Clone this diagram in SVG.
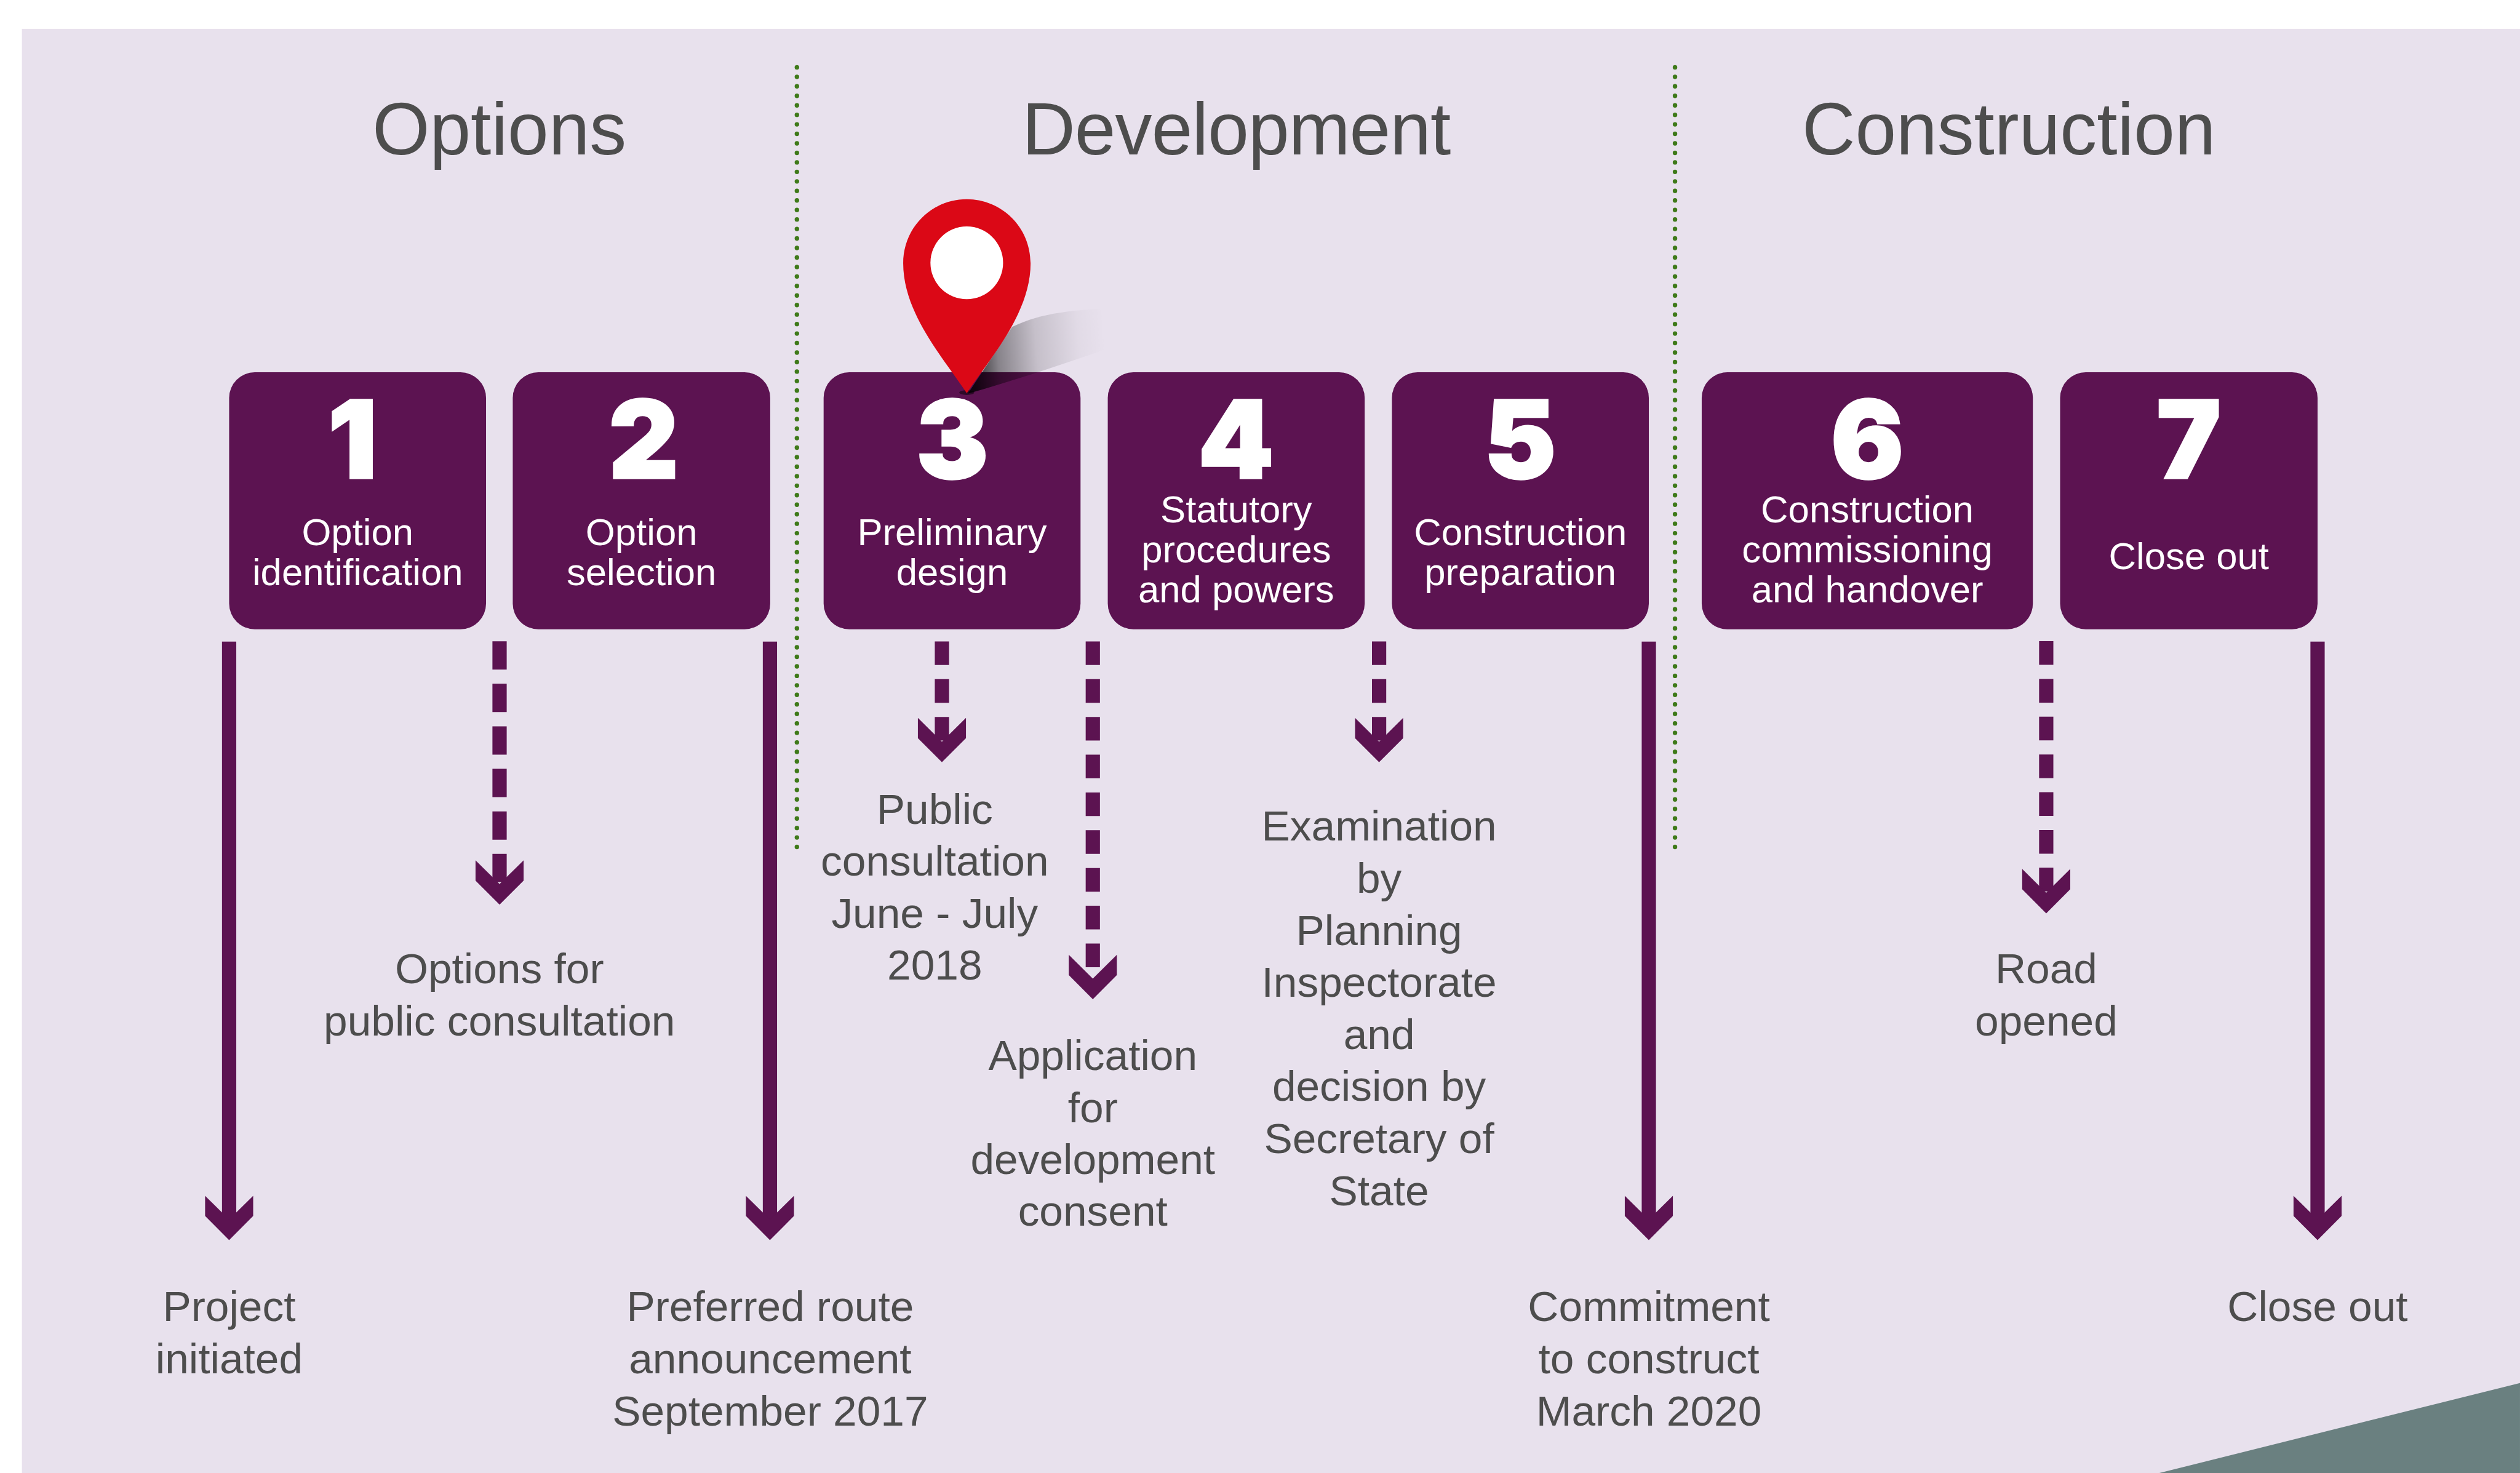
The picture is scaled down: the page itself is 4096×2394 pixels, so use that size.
<svg xmlns="http://www.w3.org/2000/svg" width="4096" height="2394" viewBox="0 0 4096 2394">
<style>
.box{fill:#5c1351}
.num{font-family:Inter,"Liberation Sans",sans-serif;font-weight:900;font-size:201px;fill:#fff;stroke:#fff;stroke-width:4;text-anchor:middle}
.lab{font-family:"Liberation Sans",Arial,sans-serif;font-size:71px;fill:#fff;text-anchor:middle}
.txt{font-family:"Liberation Sans",Arial,sans-serif;font-size:80px;fill:#4d4d4d;text-anchor:middle}
.head{font-family:"Liberation Sans",Arial,sans-serif;font-size:138px;fill:#4d4d4d;text-anchor:middle}
.solid{stroke:#5c1351;stroke-width:26.7;fill:none;marker-end:url(#chev)}
.dash{stroke:#5c1351;stroke-width:26.7;fill:none;stroke-dasharray:44.3 26.4;marker-end:url(#chev)}
.dash2{stroke:#5c1351;stroke-width:26.7;fill:none;stroke-dasharray:53 26.6;marker-end:url(#chev)}
.dot{stroke:#3f7a1a;stroke-width:8.500;fill:none;stroke-linecap:round;stroke-dasharray:0 17.8}
</style>
<defs>
<marker id="chev" markerUnits="userSpaceOnUse" markerWidth="84" markerHeight="90" viewBox="0 0 84 90" refX="44.5" refY="45" orient="auto" overflow="visible">
<polygon points="0,0 44.5,45 0,90 38,90 83,45 38,0" fill="#5c1351"/>
</marker>
<linearGradient id="shade" gradientUnits="userSpaceOnUse" x1="1820" y1="660" x2="2070" y2="640">
<stop offset="0" stop-color="#000" stop-opacity=".8"/>
<stop offset=".19" stop-color="#000" stop-opacity=".42"/>
<stop offset=".48" stop-color="#000" stop-opacity=".15"/>
<stop offset=".8" stop-color="#000" stop-opacity=".03"/>
<stop offset="1" stop-color="#000" stop-opacity="0"/>
</linearGradient>
</defs>
<g transform="scale(0.86816)">
<g id="background">
<rect x="41" y="54" width="4677" height="2704" fill="#e8e1ed"/>
<polygon points="4041,2758 4718,2589 4718,2758" fill="#6a8080"/>
</g>
<g id="dividers">
<line class="dot" x1="1492" y1="126" x2="1492" y2="1590"/>
<line class="dot" x1="3136" y1="126" x2="3136" y2="1590"/>
</g>
<g id="headings">
<text class="head" x="935" y="289">Options</text>
<text class="head" x="2315" y="289" textLength="803" lengthAdjust="spacing">Development</text>
<text class="head" x="3761" y="289">Construction</text>
</g>
<g id="connectors">
<line class="solid" x1="429" y1="1201" x2="429" y2="2283"/>
<line class="solid" x1="1441.500" y1="1201" x2="1441.500" y2="2283"/>
<line class="solid" x1="3087" y1="1201" x2="3087" y2="2283"/>
<line class="solid" x1="4339" y1="1201" x2="4339" y2="2283"/>
<line class="dash2" x1="935.3" y1="1200.5" x2="935.3" y2="1655"/>
<line class="dash" x1="1763.5" y1="1200.7" x2="1763.5" y2="1388.5"/>
<line class="dash" x1="2046" y1="1200.7" x2="2046" y2="1832"/>
<line class="dash" x1="2582" y1="1200.7" x2="2582" y2="1388.5"/>
<line class="dash" x1="3831" y1="1200.3" x2="3831" y2="1671.3"/>
</g>
<g id="node-1"><rect class="box" x="429" y="697" width="481" height="481" rx="48"/><text class="num" x="660" y="895">1</text><text class="lab" x="669.5" y="1020">Option</text><text class="lab" x="669.5" y="1095">identification</text></g>
<g id="node-2"><rect class="box" x="960" y="697" width="482" height="481" rx="48"/><text class="num" x="1205" y="895">2</text><text class="lab" x="1201" y="1020">Option</text><text class="lab" x="1201" y="1095">selection</text></g>
<g id="node-3"><rect class="box" x="1542" y="697" width="481" height="481" rx="48"/><text class="num" x="1783" y="895">3</text><text class="lab" x="1782.5" y="1020">Preliminary</text><text class="lab" x="1782.5" y="1095">design</text></g>
<g id="node-4"><rect class="box" x="2074" y="697" width="481" height="481" rx="48"/><text class="num" x="2314" y="895">4</text><text class="lab" x="2314.5" y="978">Statutory</text><text class="lab" x="2314.5" y="1053">procedures</text><text class="lab" x="2314.5" y="1128">and powers</text></g>
<g id="node-5"><rect class="box" x="2606" y="697" width="481" height="481" rx="48"/><text class="num" x="2846" y="895">5</text><text class="lab" x="2846.5" y="1020">Construction</text><text class="lab" x="2846.5" y="1095">preparation</text></g>
<g id="node-6"><rect class="box" x="3186" y="697" width="620" height="481" rx="48"/><text class="num" x="3496" y="895">6</text><text class="lab" x="3496" y="978">Construction</text><text class="lab" x="3496" y="1053">commissioning</text><text class="lab" x="3496" y="1128">and handover</text></g>
<g id="node-7"><rect class="box" x="3857" y="697" width="482" height="481" rx="48"/><text class="num" x="4098" y="895">7</text><text class="lab" x="4098" y="1065">Close out</text></g>
<g id="location-pin">
<path d="M1812 737C1900 712 1990 682 2082 650C2086 622 2076 600 2058 578C1990 582 1940 590 1895 612Z" fill="url(#shade)"/>
<ellipse cx="1810" cy="735" rx="14" ry="4.5" fill="#000" opacity=".5"/>
<path d="M1810 736C1764 668 1691 585 1691 493C1691 425 1745 373 1810 373C1875 373 1929.500 425 1929.500 493C1929.500 585 1856 668 1810 736Z" fill="#db0816"/>
<circle cx="1810" cy="492" r="68" fill="#fff"/>
</g>
<g id="labels">
<text class="txt" x="935" y="1841">Options for</text><text class="txt" x="935" y="1938.500">public consultation</text>
<text class="txt" x="1750" y="1542">Public</text><text class="txt" x="1750" y="1639.300">consultation</text><text class="txt" x="1750" y="1736.800">June - July</text><text class="txt" x="1750" y="1834">2018</text>
<text class="txt" x="2046" y="2003.300">Application</text><text class="txt" x="2046" y="2100.500">for</text><text class="txt" x="2046" y="2198">development</text><text class="txt" x="2046" y="2295">consent</text>
<text class="txt" x="2582" y="1574">Examination</text><text class="txt" x="2582" y="1671.500">by</text><text class="txt" x="2582" y="1769">Planning</text><text class="txt" x="2582" y="1866.500">Inspectorate</text><text class="txt" x="2582" y="1964">and</text><text class="txt" x="2582" y="2061">decision by</text><text class="txt" x="2582" y="2158.500">Secretary of</text><text class="txt" x="2582" y="2256">State</text>
<text class="txt" x="3831" y="1841">Road</text><text class="txt" x="3831" y="1938.500">opened</text>
<text class="txt" x="429" y="2473.500">Project</text><text class="txt" x="429" y="2571">initiated</text>
<text class="txt" x="1442" y="2473.500">Preferred route</text><text class="txt" x="1442" y="2571">announcement</text><text class="txt" x="1442" y="2668.500">September 2017</text>
<text class="txt" x="3087" y="2473.500">Commitment</text><text class="txt" x="3087" y="2571">to construct</text><text class="txt" x="3087" y="2668.500">March 2020</text>
<text class="txt" x="4339" y="2473.500">Close out</text>
</g>
</g>
</svg>
